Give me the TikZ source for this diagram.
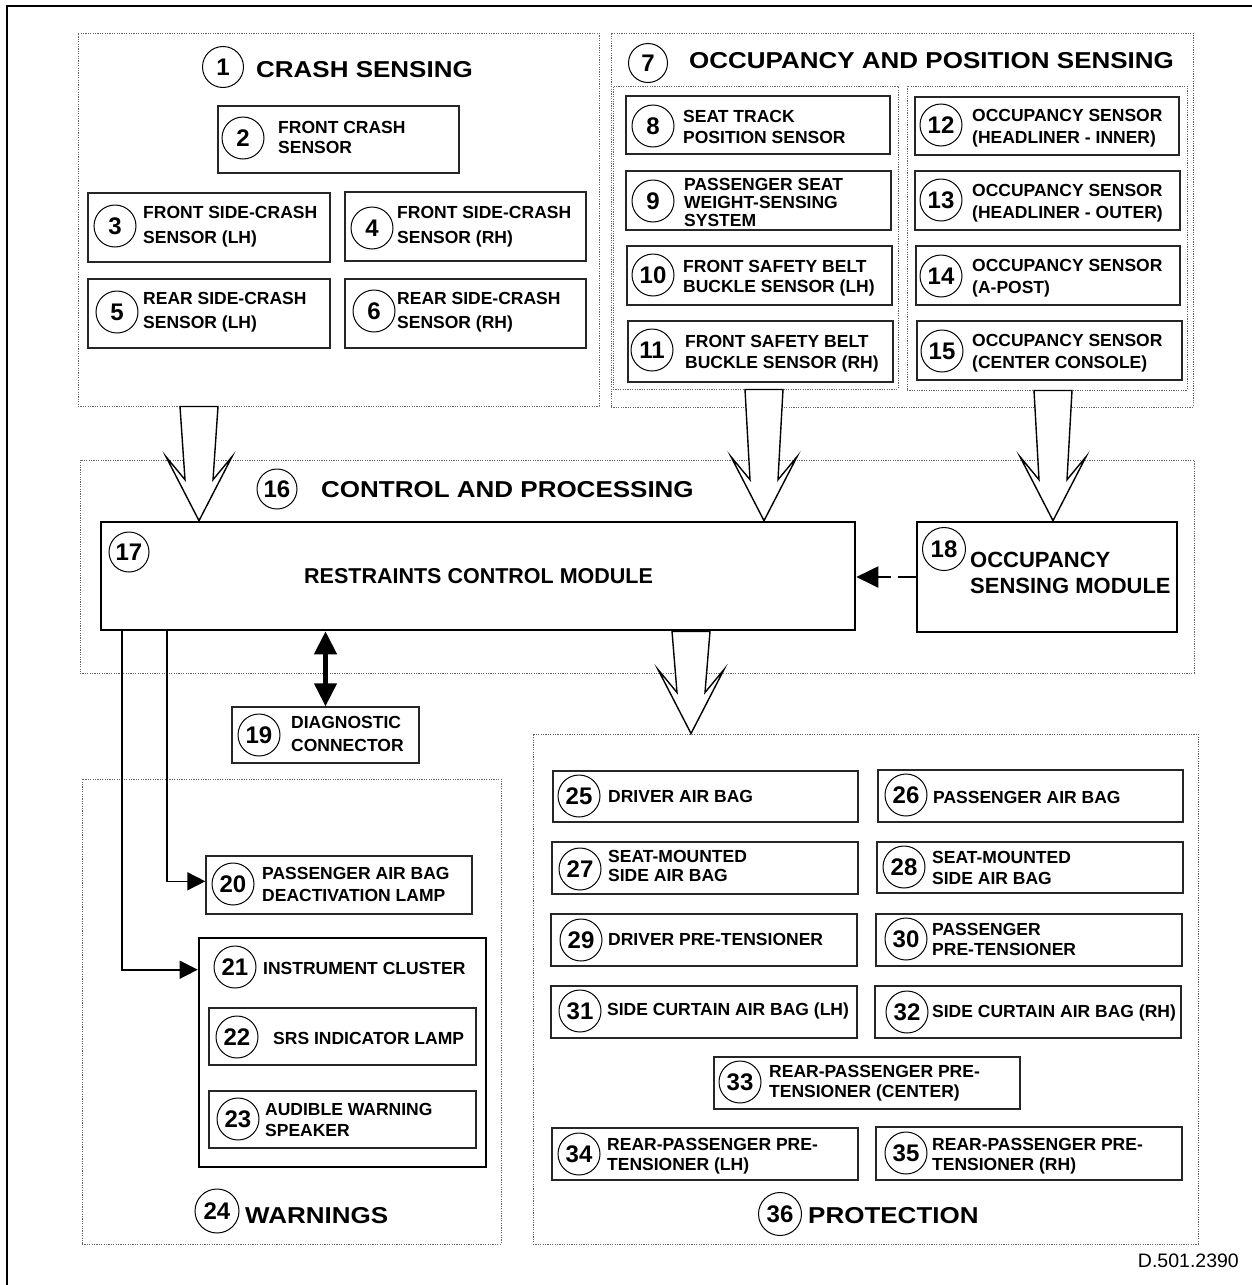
\documentclass[tikz,border=0pt]{standalone}
\usepackage{fontspec}
\setmainfont{Liberation Sans}
\newfontfamily\widefont[FakeStretch=1.13]{Liberation Sans}
\usetikzlibrary{arrows.meta,calc,fit}

\newcommand\lblf[1]{\fontsize{17.5}{#1}\selectfont\bfseries}
\newcommand\numf{\fontsize{24}{24}\selectfont\bfseries}
\newcommand\ttlf{\widefont\fontsize{23}{26}\selectfont\bfseries}
\newcommand\labelstrut{\rule{0pt}{15pt}}

% hollow block arrow from a start point (top centre) to an apex point
\newcommand\fatarrow[2]{%
  \draw[fat] let \p1=(#1), \p2=(#2) in
    (\x1-19,\y1) -- (\x1+19,\y1) -- (\x2+14,\y2+41) -- (\x2+33,\y2+64)
    -- (\x2,\y2) -- (\x2-33,\y2+64) -- (\x2-14,\y2+41) -- cycle;}

\tikzset{
  grp/.style={draw=black!60, line width=1pt, dash pattern=on 1.2pt off 1.2pt, inner sep=0pt},
  lbox/.style={draw=black!85, line width=1.4pt, inner sep=0pt},
  hbox/.style={draw=black, line width=2.6pt, inner sep=0pt},
  num/.style={circle, draw=black, line width=1pt, minimum size=42pt, inner sep=0pt, font=\numf},
  lbl/.style={anchor=north west, yshift=15pt, inner sep=0pt, align=left, font=\lblf{#1}},
  lbl/.default=21,
  ttl/.style={anchor=base west, inner sep=0pt, font=\ttlf},
  fat/.style={draw=black, line width=1.4pt, fill=white, line join=miter},
  wire/.style={draw=black, line width=1.6pt, -{Triangle[length=18pt,width=18pt]}},
}

\begin{document}
\begin{tikzpicture}[x=1pt,y=-1pt]
\useasboundingbox (0,0) rectangle (1252,1285);

% sheet frame
\draw[line width=1.5pt] (7,1285) -- (7,6) -- (1252,6);

% ---------- group outlines ----------
\node[grp, fit={(78,33) (599,406)}] (crash) {};
\node[grp, fit={(611,33) (1193,407)}] (occ) {};
\node[grp, fit={(613,86) (898,389)}] (occL) {};
\node[grp, fit={(907,86) (1187,390)}] (occR) {};
\node[grp, fit={(80,460) (1194,673)}] (ctrl) {};
\node[grp, fit={(82,779) (501,1244)}] (warn) {};
\node[grp, fit={(533,734) (1198,1244)}] (prot) {};

% ---------- crash sensing ----------
\node[num, minimum size=41pt] (n1) at (223,67) {1};
\node[ttl] (t1) at (256,77) {CRASH SENSING};
\node[lbox, fit={(218,106) (459,173)}] (b2) {};
\node[num] (n2) at (243,138) {2};
\node[lbl=20] (t2) at (278,133) {\labelstrut FRONT CRASH\\SENSOR};
\node[lbox, fit={(88,193) (330,262)}] (b3) {};
\node[num] (n3) at (115,226) {3};
\node[lbl=25] (t3) at (143,218) {\labelstrut FRONT SIDE-CRASH\\SENSOR (LH)};
\node[lbox, fit={(345,192) (586,261)}] (b4) {};
\node[num] (n4) at (372,228) {4};
\node[lbl=25] (t4) at (397,218) {\labelstrut FRONT SIDE-CRASH\\SENSOR (RH)};
\node[lbox, fit={(88,279) (330,348)}] (b5) {};
\node[num] (n5) at (117,312) {5};
\node[lbl=24] (t5) at (143,304) {\labelstrut REAR SIDE-CRASH\\SENSOR (LH)};
\node[lbox, fit={(345,279) (586,348)}] (b6) {};
\node[num] (n6) at (374,311) {6};
\node[lbl=24] (t6) at (397,304) {\labelstrut REAR SIDE-CRASH\\SENSOR (RH)};

% ---------- occupancy and position sensing ----------
\node[num, minimum size=39pt] (n7) at (648,63) {7};
\node[ttl] (t7) at (689,68) {OCCUPANCY AND POSITION SENSING};
\node[lbox, fit={(626,96) (890,154)}] (b8) {};
\node[num] (n8) at (653,126) {8};
\node[lbl] (t8) at (683,122) {\labelstrut SEAT TRACK\\POSITION SENSOR};
\node[lbox, fit={(626,171) (891,230)}] (b9) {};
\node[num] (n9) at (653,201) {9};
\node[lbl=18] (t9) at (684,190) {\labelstrut PASSENGER SEAT\\WEIGHT-SENSING\\SYSTEM};
\node[lbox, fit={(627,246) (892,305)}] (b10) {};
\node[num] (n10) at (653,275) {10};
\node[lbl=20] (t10) at (683,272) {\labelstrut FRONT SAFETY BELT\\BUCKLE SENSOR (LH)};
\node[lbox, fit={(628,321) (893,382)}] (b11) {};
\node[num] (n11) at (652,350) {11};
\node[lbl=21] (t11) at (685,347) {\labelstrut FRONT SAFETY BELT\\BUCKLE SENSOR (RH)};
\node[lbox, fit={(915,97) (1179,155)}] (b12) {};
\node[num] (n12) at (941,125) {12};
\node[lbl=22] (t12) at (972,121) {\labelstrut OCCUPANCY SENSOR\\(HEADLINER - INNER)};
\node[lbox, fit={(915,171) (1180,230)}] (b13) {};
\node[num] (n13) at (941,200) {13};
\node[lbl=22] (t13) at (972,196) {\labelstrut OCCUPANCY SENSOR\\(HEADLINER - OUTER)};
\node[lbox, fit={(916,246) (1180,305)}] (b14) {};
\node[num] (n14) at (941,276) {14};
\node[lbl=22] (t14) at (972,271) {\labelstrut OCCUPANCY SENSOR\\(A-POST)};
\node[lbox, fit={(917,321) (1182,380)}] (b15) {};
\node[num] (n15) at (942,351) {15};
\node[lbl=22] (t15) at (972,346) {\labelstrut OCCUPANCY SENSOR\\(CENTER CONSOLE)};

% ---------- control and processing ----------
\node[num, minimum size=40pt] (n16) at (277,489) {16};
\node[ttl] (t16) at (321,497) {CONTROL AND PROCESSING};
\node[hbox, fit={(101,522) (855,630)}] (rcm) {};
\node[num, minimum size=40pt] (n17) at (129,552) {17};
\node[anchor=base west, inner sep=0pt, font=\fontsize{21.5}{24}\selectfont\bfseries] (t17) at (304,583) {RESTRAINTS CONTROL MODULE};
\node[hbox, fit={(917,522) (1177,632)}] (osm) {};
\node[num, minimum size=43pt] (n18) at (944,549) {18};
\node[anchor=north west, inner sep=0pt, align=left, font=\fontsize{22}{26}\selectfont\bfseries] (t18) at (970,549) {\rule{0pt}{18pt}OCCUPANCY\\SENSING MODULE};
\node[lbox, fit={(232,707) (419,763)}] (b19) {};
\node[num] (n19) at (259,735) {19};
\node[lbl=23] (t19) at (291,728) {\labelstrut DIAGNOSTIC\\CONNECTOR};

% ---------- warnings ----------
\node[num, minimum size=44pt] (n24) at (217,1211) {24};
\node[ttl] (t24) at (245,1223) {WARNINGS};
\node[lbox, fit={(206,856) (472,914)}] (b20) {};
\node[num] (n20) at (233,884) {20};
\node[lbl=22] (t20) at (262,879) {\labelstrut PASSENGER AIR BAG\\DEACTIVATION LAMP};
\node[hbox, fit={(199,938) (486,1167)}] (b21) {};
\node[num] (n21) at (235,967) {21};
\node[lbl] (t21) at (263,974) {\labelstrut INSTRUMENT CLUSTER};
\node[lbox, fit={(209,1008) (476,1065)}] (b22) {};
\node[num] (n22) at (237,1037) {22};
\node[lbl] (t22) at (273,1044) {\labelstrut SRS INDICATOR LAMP};
\node[lbox, fit={(209,1091) (476,1148)}] (b23) {};
\node[num] (n23) at (238,1119) {23};
\node[lbl=21] (t23) at (265,1115) {\labelstrut AUDIBLE WARNING\\SPEAKER};

% ---------- protection ----------
\node[num, minimum size=43pt] (n36) at (780,1214) {36};
\node[ttl] (t36) at (808,1223) {PROTECTION};
\node[lbox, fit={(553,771) (858,822)}] (b25) {};
\node[num] (n25) at (579,796) {25};
\node[lbl] (t25) at (608,802) {\labelstrut DRIVER AIR BAG};
\node[lbox, fit={(878,770) (1183,822)}] (b26) {};
\node[num] (n26) at (906,795) {26};
\node[lbl] (t26) at (933,803) {\labelstrut PASSENGER AIR BAG};
\node[lbox, fit={(552,842) (858,894)}] (b27) {};
\node[num] (n27) at (580,869) {27};
\node[lbl=19] (t27) at (608,862) {\labelstrut SEAT-MOUNTED\\SIDE AIR BAG};
\node[lbox, fit={(877,842) (1183,893)}] (b28) {};
\node[num] (n28) at (904,867) {28};
\node[lbl=21] (t28) at (932,863) {\labelstrut SEAT-MOUNTED\\SIDE AIR BAG};
\node[lbox, fit={(551,914) (857,966)}] (b29) {};
\node[num] (n29) at (581,940) {29};
\node[lbl] (t29) at (608,945) {\labelstrut DRIVER PRE-TENSIONER};
\node[lbox, fit={(876,914) (1182,966)}] (b30) {};
\node[num] (n30) at (906,939) {30};
\node[lbl=20] (t30) at (932,935) {\labelstrut PASSENGER\\PRE-TENSIONER};
\node[lbox, fit={(551,986) (857,1038)}] (b31) {};
\node[num] (n31) at (580,1011) {31};
\node[lbl] (t31) at (607,1015) {\labelstrut SIDE CURTAIN AIR BAG (LH)};
\node[lbox, fit={(875,986) (1181,1038)}] (b32) {};
\node[num] (n32) at (907,1012) {32};
\node[lbl] (t32) at (932,1017) {\labelstrut SIDE CURTAIN AIR BAG (RH)};
\node[lbox, fit={(714,1057) (1020,1109)}] (b33) {};
\node[num] (n33) at (740,1082) {33};
\node[lbl=20] (t33) at (769,1077) {\labelstrut REAR-PASSENGER PRE-\\TENSIONER (CENTER)};
\node[lbox, fit={(552,1128) (858,1180)}] (b34) {};
\node[num] (n34) at (579,1154) {34};
\node[lbl=20] (t34) at (607,1150) {\labelstrut REAR-PASSENGER PRE-\\TENSIONER (LH)};
\node[lbox, fit={(876,1127) (1182,1180)}] (b35) {};
\node[num] (n35) at (906,1153) {35};
\node[lbl=20] (t35) at (932,1150) {\labelstrut REAR-PASSENGER PRE-\\TENSIONER (RH)};

% ---------- block arrows between groups ----------
\coordinate (ax1) at (199,0);
\coordinate (ax2) at (764,0);
\coordinate (ax3) at (1053,0);
\coordinate (ax4) at (691,0);
\fatarrow{crash.south -| ax1}{rcm.north -| ax1}
\fatarrow{occL.south -| ax2}{rcm.north -| ax2}
\fatarrow{occR.south -| ax3}{osm.north -| ax3}
\fatarrow{rcm.south -| ax4}{prot.north -| ax4}

% ---------- signal connectors ----------
\draw[line width=2pt, dash pattern=on 18pt off 7pt, -{Triangle[length=22pt,width=21pt]}]
  (osm.west) -- (osm.west -| rcm.east);
\draw[line width=4.5pt, {Triangle[length=23pt,width=22pt]}-{Triangle[length=23pt,width=22pt]}]
  (rcm.south -| b19.north) -- (b19.north);
\coordinate (w1) at (122,0);
\coordinate (w2) at (167,0);
\draw[wire] (rcm.south -| w2) |- ($(b20.north west)+(0,26)$);
\draw[wire] (rcm.south -| w1) |- ($(b21.north west)+(0,33)$);

% drawing number
\node[anchor=base east, inner sep=0pt, font=\fontsize{19.5}{20}\selectfont] (code) at (1239,1267) {D.501.2390};
\end{tikzpicture}
\end{document}
